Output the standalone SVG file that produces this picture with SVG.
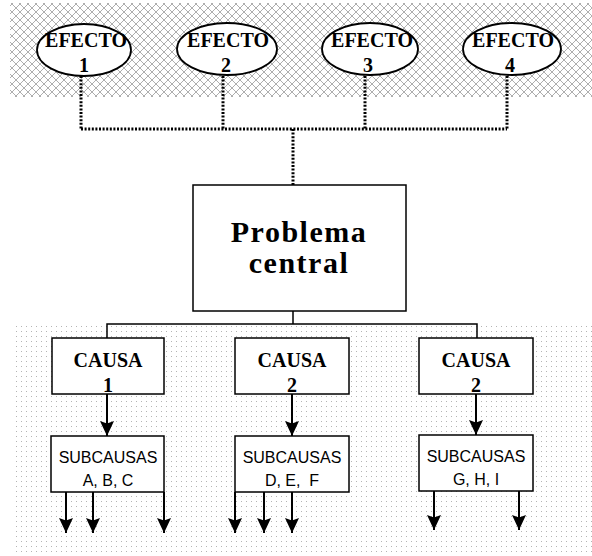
<svg xmlns="http://www.w3.org/2000/svg" width="592" height="556" viewBox="0 0 592 556">
<defs>
<pattern id="hatch" width="8" height="8" patternUnits="userSpaceOnUse">
<path d="M0,0 L8,8 M8,0 L0,8" stroke="#999" stroke-width="0.8" fill="none"/>
</pattern>
<pattern id="dots" width="5" height="5" patternUnits="userSpaceOnUse">
<rect x="1" y="1" width="1" height="1" fill="#b4b4b4"/>
</pattern>
<marker id="arrd" viewBox="0 0 15 14" refX="15" refY="7" markerWidth="15" markerHeight="14" markerUnits="userSpaceOnUse" orient="auto">
<path d="M0,0 L2.5,7 L0,14 L15,7 Z" fill="#000"/>
</marker>
</defs>
<style>
.box{fill:#fff;stroke:#000;stroke-width:1.5}
.ell{fill:#fff;stroke:#000;stroke-width:1.8}
.ser{font-family:"Liberation Serif","Times New Roman",serif;font-weight:bold;text-anchor:middle;fill:#000}
.san{font-family:"Liberation Sans",Arial,sans-serif;font-size:16px;text-anchor:middle;fill:#000}
.dot{fill:none;stroke:#000;stroke-width:3;stroke-dasharray:2,1.6}
.sol{fill:none;stroke:#000;stroke-width:1.5}
.arw{fill:none;stroke:#000;stroke-width:2;marker-end:url(#arrd)}
</style>
<rect x="10" y="3" width="582" height="94" fill="url(#hatch)"/>
<rect x="14" y="324" width="578" height="232" fill="url(#dots)"/>
<g id="connectors">
<path class="dot" d="M81,76 V129 M223,76 V129 M365,76 V129 M507,76 V129 M81,129 H507 M293,129 V185"/>
<path class="sol" d="M293,311 V324 M107,338 V324 H477 V338"/>
<path class="arw" d="M107,394 V436"/>
<path class="arw" d="M292,394 V436"/>
<path class="arw" d="M476,394 V435"/>
<path class="arw" d="M66,492 V533"/>
<path class="arw" d="M93,492 V533"/>
<path class="arw" d="M164,492 V533"/>
<path class="arw" d="M235,492 V533"/>
<path class="arw" d="M264,492 V533"/>
<path class="arw" d="M292,492 V533"/>
<path class="arw" d="M434,491 V530"/>
<path class="arw" d="M519,491 V530"/>
</g>
<g id="efecto1"><ellipse class="ell" cx="84" cy="50" rx="47" ry="26"/><text class="ser" font-size="20" x="86" y="47">EFECTO</text><text class="ser" font-size="20" x="84" y="72">1</text></g>
<g id="efecto2"><ellipse class="ell" cx="227" cy="49" rx="50" ry="26"/><text class="ser" font-size="20" x="228" y="47">EFECTO</text><text class="ser" font-size="20" x="226" y="72">2</text></g>
<g id="efecto3"><ellipse class="ell" cx="370" cy="49" rx="48" ry="26"/><text class="ser" font-size="20" x="372" y="47">EFECTO</text><text class="ser" font-size="20" x="368" y="72">3</text></g>
<g id="efecto4"><ellipse class="ell" cx="512" cy="49" rx="49" ry="26"/><text class="ser" font-size="20" x="513" y="47">EFECTO</text><text class="ser" font-size="20" x="510" y="72">4</text></g>
<g id="problema"><rect class="box" x="193" y="185" width="213" height="126"/><text class="ser" font-size="30" letter-spacing="1.5" x="299" y="242">Problema</text><text class="ser" font-size="30" letter-spacing="1.5" x="299" y="273">central</text></g>
<g id="causa1"><rect class="box" x="52" y="338" width="112" height="56"/><text class="ser" font-size="20" x="108" y="367">CAUSA</text><text class="ser" font-size="20" x="108" y="392">1</text></g>
<g id="causa2"><rect class="box" x="235" y="338" width="114" height="56"/><text class="ser" font-size="20" x="292" y="367">CAUSA</text><text class="ser" font-size="20" x="292" y="392">2</text></g>
<g id="causa3"><rect class="box" x="419" y="338" width="114" height="56"/><text class="ser" font-size="20" x="476" y="367">CAUSA</text><text class="ser" font-size="20" x="476" y="392">2</text></g>
<g id="sub1"><rect class="box" x="51" y="436" width="113" height="56"/><text class="san" x="108" y="463">SUBCAUSAS</text><text class="san" x="108" y="486">A, B, C</text></g>
<g id="sub2"><rect class="box" x="235" y="436" width="114" height="56"/><text class="san" x="292" y="463">SUBCAUSAS</text><text class="san" x="292" y="486" xml:space="preserve">D, E,  F</text></g>
<g id="sub3"><rect class="box" x="419" y="435" width="114" height="56"/><text class="san" x="476" y="462">SUBCAUSAS</text><text class="san" x="476" y="485">G, H, I</text></g>
</svg>
